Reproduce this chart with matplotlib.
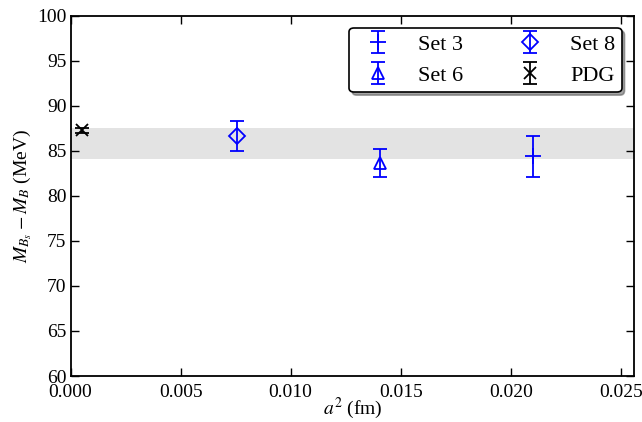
import numpy as np
import matplotlib
matplotlib.use("Agg")
import matplotlib.pyplot as plt

plt.rcParams['font.family'] = ['Liberation Serif', 'DejaVu Serif']
plt.rcParams['mathtext.fontset'] = 'stix'
plt.rcParams['xtick.direction'] = 'in'
plt.rcParams['ytick.direction'] = 'in'
plt.rcParams['xtick.top'] = True
plt.rcParams['ytick.right'] = True

# a^2 values and mass splittings
labels = ["Set 3", "Set 6", "Set 8", "PDG"]
a2 = [0.02103, 0.01406, 0.00757, 0.0005]
dm = [84.4, 83.68, 86.67, 87.26]
err = [2.28, 1.54, 1.64, 0.25]
markers = ["+", "^", "D", "x"]
colors = ["blue", "blue", "blue", "black"]
msizes = [12, 9, 8.5, 8]

band_lo = 84.11
band_hi = 87.52

fig = plt.figure(figsize=(6.42, 4.22), dpi=100)
ax = fig.add_axes([0.110, 0.109, 0.8775, 0.8538])

ax.axhspan(band_lo, band_hi, color="#e3e3e3", lw=0, zorder=0)

for i in range(len(labels)):
    ax.errorbar(a2[i], dm[i], yerr=err[i], fmt=markers[i], color=colors[i],
                mec=colors[i], mfc="none", ms=msizes[i], mew=1.3,
                capsize=5, capthick=1.3, elinewidth=1.3, label=labels[i])

ax.set_xlim(0, 0.0256)
ax.set_ylim(60, 100)
ax.set_xticks([0.000, 0.005, 0.010, 0.015, 0.020, 0.025])
ax.set_xticklabels(["0.000", "0.005", "0.010", "0.015", "0.020", "0.025"])
ax.tick_params(labelsize=14, length=6, width=1, pad=3)
ax.tick_params(axis="x", pad=6)
for s in ax.spines.values():
    s.set_linewidth(1.3)

ax.set_xlabel("$a^2$ (fm)", fontsize=14, labelpad=-4)
ax.set_ylabel("$M_{B_s} - M_B$ (MeV)", fontsize=14, labelpad=2)

leg = ax.legend(loc="upper right", ncol=2, numpoints=1, fontsize=16,
                shadow=True, fancybox=True, handlelength=2.0,
                columnspacing=2.0, borderaxespad=0.55, labelspacing=0.45,
                borderpad=0.3)
leg.get_frame().set_edgecolor("black")
leg.get_frame().set_linewidth(1.2)

fig.savefig("out.png", dpi=100)
